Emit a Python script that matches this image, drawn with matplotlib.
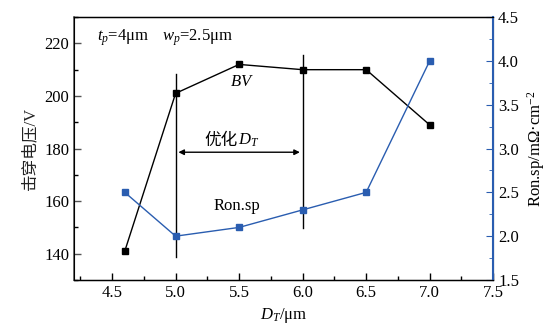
import matplotlib
matplotlib.use("Agg")
import matplotlib.pyplot as plt
from matplotlib.ticker import MultipleLocator, FormatStrFormatter

plt.rcParams['font.family'] = ['Liberation Serif', 'Noto Sans CJK SC']
plt.rcParams['mathtext.fontset'] = 'custom'
plt.rcParams['mathtext.rm'] = 'Liberation Serif'
plt.rcParams['mathtext.it'] = 'Liberation Serif:italic'

dt = [4.6, 5.0, 5.5, 6.0, 6.5, 7.0]
bv = [141, 201, 212, 210, 210, 189]
ron = [2.5, 2.0, 2.1, 2.3, 2.5, 4.0]

blue = '#2a5db0'
fig = plt.figure(figsize=(5.48, 3.29), dpi=100)
ax = fig.add_axes([0.135, 0.149, 0.765, 0.799])
ax2 = ax.twinx()

ax.plot(dt, bv, color='black', marker='s', markersize=5, linewidth=1)
ax2.plot(dt, ron, color=blue, marker='s', markersize=5, linewidth=1)

ax.set_xlim(4.2, 7.5)
ax.set_ylim(130, 230)
ax2.set_ylim(1.5, 4.5)

ax.xaxis.set_major_locator(MultipleLocator(0.5))
ax.xaxis.set_minor_locator(MultipleLocator(0.25))
ax.yaxis.set_major_locator(MultipleLocator(20))
ax.yaxis.set_minor_locator(MultipleLocator(10))
ax2.yaxis.set_major_locator(MultipleLocator(0.5))
ax2.yaxis.set_minor_locator(MultipleLocator(0.25))

fs = 12
ax.tick_params(axis='both', which='major', direction='in', length=5, labelsize=fs, width=1)
ax.tick_params(axis='both', which='minor', direction='in', length=3, width=1)
ax.tick_params(axis='y', colors='#555555', labelcolor='black')
ax2.tick_params(axis='y', which='major', direction='in', length=5, labelsize=fs, colors=blue, labelcolor='black')
ax2.tick_params(axis='y', which='minor', direction='in', length=3, colors=blue)
ax.xaxis.set_major_formatter(FormatStrFormatter('%.1f'))
ax2.yaxis.set_major_formatter(FormatStrFormatter('%.1f'))

ax2.spines['right'].set_color(blue)
ax2.spines['right'].set_linewidth(1.5)
ax.spines['left'].set_color('#555555')
ax.spines['left'].set_linewidth(1.2)
for s in ['top', 'bottom']:
    ax.spines[s].set_linewidth(1)

ax.set_xlabel(r'$D_T$/μm', fontsize=fs)
ax.set_ylabel('击穿电压/V', fontsize=fs, fontweight='light', color='#222222')
ax2.set_ylabel(r'Ron.sp/mΩ·cm$^{-2}$', fontsize=fs)

# annotations
ax.plot([5.0, 5.0], [138.7, 208.3], color='black', linewidth=1)
ax.plot([6.0, 6.0], [149.7, 215.5], color='black', linewidth=1)
ax.annotate('', xy=(5.0, 178.6), xytext=(6.0, 178.6),
            arrowprops=dict(arrowstyle='<|-|>', color='black', lw=1, mutation_scale=8))
ax.text(5.49, 183, '优化', ha='right', va='center', fontsize=fs, fontweight='light')
ax.text(5.49, 183, r'$D_T$', ha='left', va='center', fontsize=fs)
ax.text(5.52, 205.2, r'$BV$', ha='center', va='center', fontsize=fs)
ax2.text(5.48, 2.34, 'Ron.sp', ha='center', va='center', fontsize=fs)
ax.text(4.38, 222, r'$t_p$=4μm', ha='left', va='center', fontsize=fs)
ax.text(4.89, 222, r'$w_p$=2.5μm', ha='left', va='center', fontsize=fs)

fig.savefig('out.png', dpi=100)
